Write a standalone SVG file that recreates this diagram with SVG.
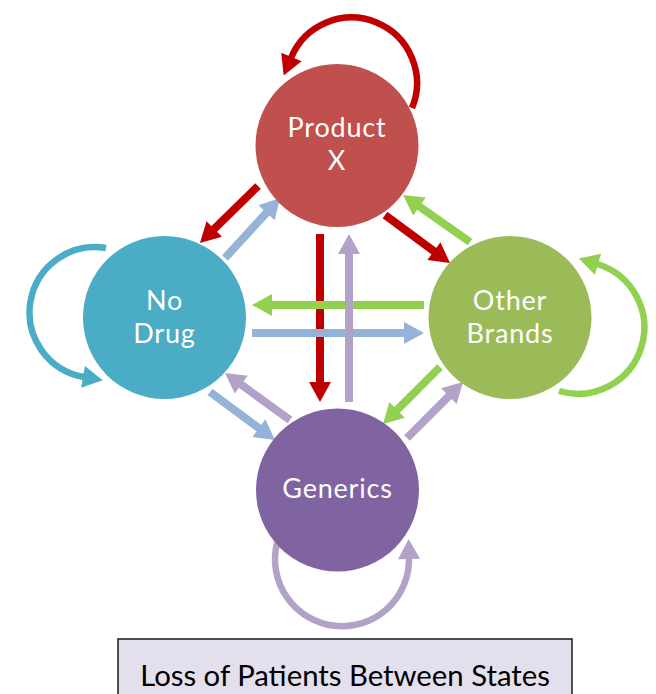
<svg xmlns="http://www.w3.org/2000/svg" width="656" height="694" viewBox="0 0 656 694">
  <style>
    .node-label { font-family: Lato, "Open Sans", sans-serif; font-size: 27px; letter-spacing: 0.8px; fill: #ffffff; text-anchor: middle; }
    .caption { font-family: Lato, "Open Sans", sans-serif; font-size: 29.3px; fill: #000000; text-anchor: middle; }
    .link { fill: none; stroke-width: 8; }
    .loop { fill: none; stroke-width: 6.5; }
    .red { stroke: #c00000; }
    .blue { stroke: #95b3d7; }
    .green { stroke: #92d050; }
    .lav { stroke: #b3a2c7; }
    .teal { stroke: #4bacc6; }
  </style>
  <defs>
    <marker id="head-red" markerUnits="userSpaceOnUse" markerWidth="21" markerHeight="22" refX="1" refY="11" orient="auto" overflow="visible"><path d="M0,0 L20,11 L0,22 z" fill="#c00000"/></marker>
    <marker id="head-blue" markerUnits="userSpaceOnUse" markerWidth="21" markerHeight="22" refX="1" refY="11" orient="auto" overflow="visible"><path d="M0,0 L20,11 L0,22 z" fill="#95b3d7"/></marker>
    <marker id="head-green" markerUnits="userSpaceOnUse" markerWidth="21" markerHeight="22" refX="1" refY="11" orient="auto" overflow="visible"><path d="M0,0 L20,11 L0,22 z" fill="#92d050"/></marker>
    <marker id="head-lav" markerUnits="userSpaceOnUse" markerWidth="21" markerHeight="22" refX="1" refY="11" orient="auto" overflow="visible"><path d="M0,0 L20,11 L0,22 z" fill="#b3a2c7"/></marker>
    <marker id="head-teal" markerUnits="userSpaceOnUse" markerWidth="21" markerHeight="22" refX="1" refY="11" orient="auto" overflow="visible"><path d="M0,0 L20,11 L0,22 z" fill="#4bacc6"/></marker>
  </defs>

  <g id="connectors">
    <!-- Product X transitions -->
    <line class="link red" x1="258" y1="186" x2="213.5" y2="229.7" marker-end="url(#head-red)"/>
    <line class="link red" x1="320" y1="234" x2="320" y2="383" marker-end="url(#head-red)"/>
    <line class="link red" x1="385" y1="215" x2="434.7" y2="251.7" marker-end="url(#head-red)"/>
    <!-- No Drug transitions -->
    <line class="link blue" x1="225" y1="258" x2="267.2" y2="212" marker-end="url(#head-blue)"/>
    <line class="link blue" x1="252" y1="333" x2="405" y2="333" marker-end="url(#head-blue)"/>
    <line class="link blue" x1="210" y1="392" x2="259.7" y2="428.7" marker-end="url(#head-blue)"/>
    <!-- Other Brands transitions -->
    <line class="link green" x1="470" y1="242" x2="418.6" y2="205.9" marker-end="url(#head-green)"/>
    <line class="link green" x1="424" y1="305" x2="271" y2="305" marker-end="url(#head-green)"/>
    <line class="link green" x1="440" y1="367" x2="396.4" y2="410.6" marker-end="url(#head-green)"/>
    <!-- Generics transitions -->
    <line class="link lav" x1="349" y1="402" x2="349" y2="253" marker-end="url(#head-lav)"/>
    <line class="link lav" x1="407" y1="438" x2="449.6" y2="395.4" marker-end="url(#head-lav)"/>
    <line class="link lav" x1="290" y1="420" x2="240.4" y2="384.1" marker-end="url(#head-lav)"/>
    <!-- self loops -->
    <path class="loop red" d="M412,108 A65,65 0 1 0 291,58" marker-end="url(#head-red)"/>
    <path class="loop teal" d="M106,248 A65,65 0 1 0 84,377" marker-end="url(#head-teal)"/>
    <path class="loop green" d="M559,391 A66,66 0 1 0 597,264" marker-end="url(#head-green)"/>
    <path class="loop lav" d="M277,543 A67,67 0 1 0 409,558" marker-end="url(#head-lav)"/>
  </g>

  <g id="product-x">
    <circle cx="337" cy="145.5" r="81.5" fill="#c0504d"/>
    <text class="node-label" x="337" y="137">Product<tspan x="337" dy="33">X</tspan></text>
  </g>
  <g id="no-drug">
    <circle cx="164.5" cy="317.5" r="81.5" fill="#4bacc6"/>
    <text class="node-label" x="164.5" y="310">No<tspan x="164.5" dy="33">Drug</tspan></text>
  </g>
  <g id="other-brands">
    <circle cx="510" cy="317.5" r="81.5" fill="#9bbb59"/>
    <text class="node-label" x="510" y="310">Other<tspan x="510" dy="33">Brands</tspan></text>
  </g>
  <g id="generics">
    <circle cx="337.5" cy="490" r="81.5" fill="#8064a2"/>
    <text class="node-label" x="337.5" y="498">Generics</text>
  </g>

  <g id="caption">
    <rect x="118" y="639" width="454" height="70" fill="#e4dfec" stroke="#1a1a1a" stroke-width="1.5"/>
    <text class="caption" x="345" y="686">Loss of Patients Between States</text>
  </g>
</svg>
